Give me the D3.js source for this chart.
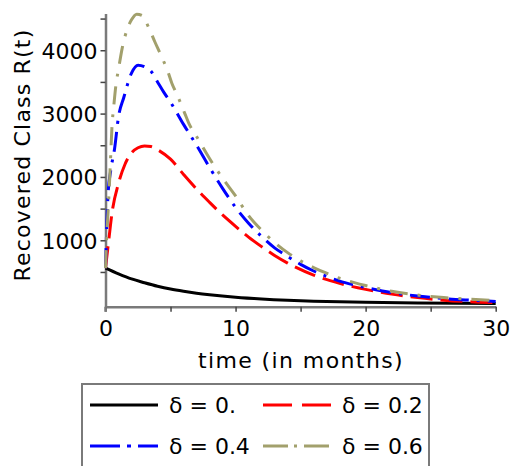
<!DOCTYPE html>
<html>
<head>
<meta charset="utf-8">
<script src="https://cdn.jsdelivr.net/npm/d3@7"></script>
<style>
  body { margin: 0; background: #fff; }
  text { font-family: "DejaVu Sans", sans-serif; fill: #000; }
</style>
</head>
<body>
<script>
// time points (months) and recovered class values
var tBlack = [0, 1, 2, 3, 4, 5, 6, 7, 8, 10, 12, 14, 16, 18, 20, 24, 30];
var rBlack = [560, 470, 390, 330, 275, 230, 195, 165, 140, 100, 72, 52, 38, 28, 20, 10, 3];

var tRed = [0, 0.25, 0.5, 1, 1.5, 2, 2.5, 3, 3.5, 4, 5, 6, 7, 8, 9, 10, 11, 12, 13, 14, 16, 18, 20, 22, 24, 26, 28, 30];
var rRed = [560, 1000, 1430, 1900, 2200, 2380, 2460, 2490, 2480, 2430, 2280, 2040, 1810, 1600, 1400, 1220, 1050, 900, 760, 640, 450, 320, 225, 150, 95, 55, 30, 15];

var tBlue = [0, 0.2, 0.4, 0.7, 1, 1.4, 2, 2.5, 3, 3.5, 4, 4.5, 5, 6, 7, 8, 9, 10, 11, 12, 13, 14, 15, 16, 17, 18, 19, 20, 22, 24, 26, 28, 30];
var rBlue = [560, 1740, 2100, 2450, 2950, 3250, 3640, 3765, 3740, 3670, 3500, 3330, 3180, 2830, 2500, 2150, 1820, 1520, 1270, 1060, 880, 745, 620, 515, 430, 355, 300, 255, 175, 120, 80, 55, 35];

var tOlive = [0, 0.1, 0.2, 0.35, 0.5, 0.65, 0.8, 1, 1.3, 1.65, 2, 2.4, 2.8, 3.4, 3.8, 4.2, 4.8, 5.1, 5.5, 6.1, 6.4, 7, 8, 9, 10, 11, 12, 13, 14, 15, 16, 17, 18, 19, 20, 22, 24, 26, 28, 30];
var rOlive = [560, 1100, 1450, 2100, 2800, 3150, 3450, 3700, 4050, 4320, 4480, 4570, 4550, 4320, 4130, 3950, 3660, 3480, 3300, 3000, 2850, 2640, 2290, 1980, 1700, 1390, 1160, 965, 805, 675, 570, 480, 400, 340, 285, 195, 135, 95, 70, 50];

var deltaLabels = ["\u03b4 = 0.", "\u03b4 = 0.2", "\u03b4 = 0.4", "\u03b4 = 0.6"];
var xTicks = [0, 5, 10, 15, 20, 25, 30];
var yTicks = [500, 1000, 1500, 2000, 2500, 3000, 3500, 4000, 4500];

var width = 510, height = 466;

var series = [
  { t: tBlack, r: rBlack, color: "#000000", dash: null, legendDash: null },
  { t: tRed, r: rRed, color: "#ff0000", dash: "22,8", legendDash: "29,10" },
  { t: tBlue, r: rBlue, color: "#0000ff", dash: "20,8,3,8", legendDash: "30,7,4,7" },
  { t: tOlive, r: rOlive, color: "#a2a06c", dash: "18,10,3,10", legendDash: "25,6,3,7" }
];

var svg = d3.select("body").append("svg")
  .attr("width", width)
  .attr("height", height);

var x = d3.scaleLinear().domain([0, 30]).range([105.5, 495.7]);
var y = d3.scaleLinear().domain([-50, 4580]).range([306.8, 13.5]);

// x axis
var gx = svg.append("g")
  .attr("transform", "translate(0," + y(-50) + ")")
  .call(d3.axisBottom(x)
    .tickValues(xTicks)
    .tickSize(5)
    .tickSizeOuter(0)
    .tickFormat(function(d) { return d % 10 === 0 ? d : ""; }));
gx.select(".domain").attr("stroke", "#7a7a7a").attr("stroke-width", 2.5);
gx.selectAll(".tick line").attr("stroke", "#444").attr("stroke-width", 1.5);
gx.selectAll(".tick text").attr("y", 14).style("font-size", "22px")
  .style("font-family", "DejaVu Sans, sans-serif").attr("fill", "#000");

// y axis
var gy = svg.append("g")
  .attr("transform", "translate(" + x(0) + ",0)")
  .call(d3.axisLeft(y)
    .tickValues(yTicks)
    .tickSize(5)
    .tickSizeOuter(0)
    .tickFormat(function(d) { return d % 1000 === 0 ? d : ""; }));
gy.select(".domain").attr("stroke", "#7a7a7a").attr("stroke-width", 2.5);
gy.selectAll(".tick line").attr("stroke", "#444").attr("stroke-width", 1.5);
gy.selectAll(".tick text").attr("x", -8).attr("dy", "0.36em").style("font-size", "22px")
  .style("font-family", "DejaVu Sans, sans-serif").attr("fill", "#000");

// little stub of the y axis below the x axis
svg.append("line")
  .attr("x1", x(0)).attr("x2", x(0))
  .attr("y1", y(-50)).attr("y2", y(-50) + 5)
  .attr("stroke", "#7a7a7a").attr("stroke-width", 2.5);

// axis titles
svg.append("text")
  .attr("x", 301).attr("y", 368)
  .attr("text-anchor", "middle")
  .style("font-size", "22px")
  .style("letter-spacing", "1.4px")
  .text("time (in months)");

svg.append("text")
  .attr("transform", "translate(30,155) rotate(-90)")
  .attr("text-anchor", "middle")
  .style("font-size", "22px")
  .style("letter-spacing", "1.2px")
  .text("Recovered Class R(t)");

// curves
var line = d3.line()
  .x(function(d) { return x(d[0]); })
  .y(function(d) { return y(d[1]); })
  .curve(d3.curveMonotoneX);

series.forEach(function(s) {
  var pts = s.t.map(function(t, i) { return [t, s.r[i]]; });
  svg.append("path")
    .datum(pts)
    .attr("d", line)
    .attr("fill", "none")
    .attr("stroke", s.color)
    .attr("stroke-width", 3)
    .attr("stroke-dasharray", s.dash);
});

// legend
svg.append("rect")
  .attr("x", 82).attr("y", 384)
  .attr("width", 347).attr("height", 100)
  .attr("fill", "none")
  .attr("stroke", "#7a7a7a")
  .attr("stroke-width", 2);

var legendPos = [
  { lx: 90, tx: 169, cy: 405 },
  { lx: 263, tx: 342, cy: 405 },
  { lx: 90, tx: 169, cy: 446 },
  { lx: 263, tx: 342, cy: 446 }
];

series.forEach(function(s, i) {
  var p = legendPos[i];
  svg.append("line")
    .attr("x1", p.lx).attr("x2", p.lx + 68)
    .attr("y1", p.cy).attr("y2", p.cy)
    .attr("stroke", s.color)
    .attr("stroke-width", 3)
    .attr("stroke-dasharray", s.legendDash);
  svg.append("text")
    .attr("x", p.tx).attr("y", p.cy + 8)
    .style("font-size", "22px")
    .text(deltaLabels[i]);
});
</script>
</body>
</html>
